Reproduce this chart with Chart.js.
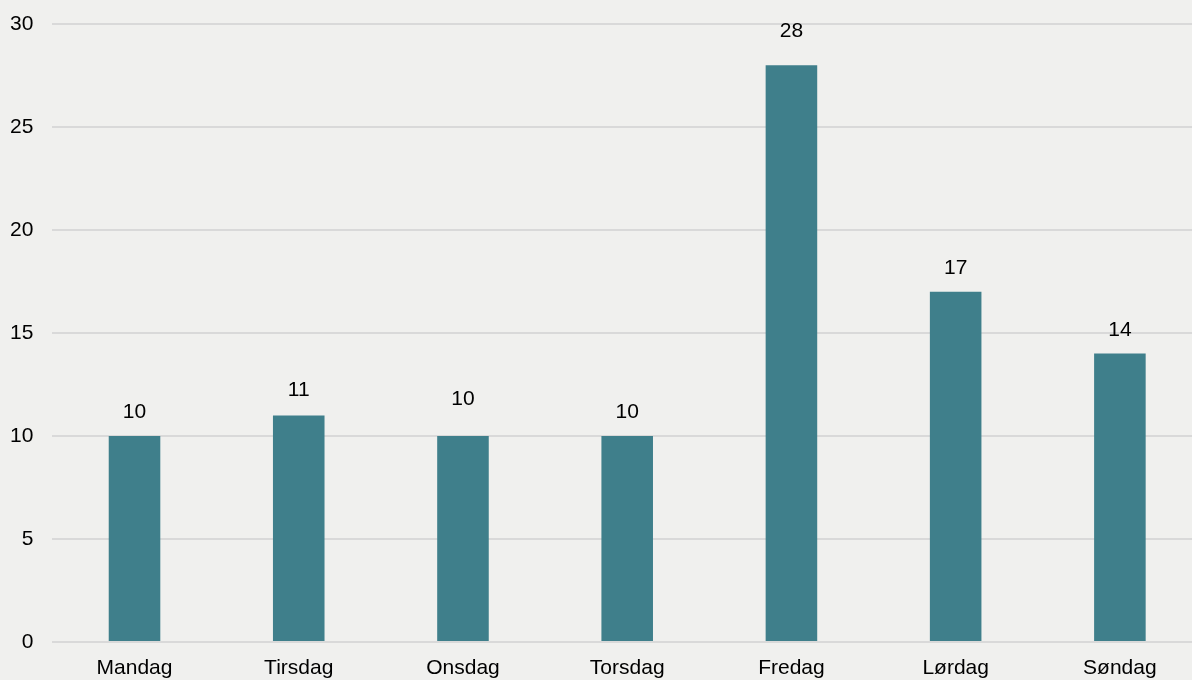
<!DOCTYPE html>
<html>
<head>
<meta charset="utf-8">
<script src="https://cdn.jsdelivr.net/npm/chart.js@4"></script>
<style>
  html, body { margin: 0; padding: 0; background: #f0f0ee; overflow: hidden; }
  #wrap { width: 1202px; height: 680px; }
</style>
</head>
<body>
<div id="wrap"><canvas id="chart" width="1202" height="680"></canvas></div>
<script>
const days = ['Mandag', 'Tirsdag', 'Onsdag', 'Torsdag', 'Fredag', 'Lørdag', 'Søndag'];
const counts = [10, 11, 10, 10, 28, 17, 14];
const yTicks = [0, 5, 10, 15, 20, 25, 30];

// how far above each bar top its number sits (px)
const labelLift = [24, 25, 37, 24, 34, 24, 23];

const FONT = '"Liberation Sans", Arial, sans-serif';

const valueLabels = {
    id: 'valueLabels',
    afterDatasetsDraw(chart) {
        const ctx = chart.ctx;
        const meta = chart.getDatasetMeta(0);
        ctx.save();
        ctx.font = '21px ' + FONT;
        ctx.fillStyle = '#000';
        ctx.textAlign = 'center';
        ctx.textBaseline = 'middle';
        meta.data.forEach((bar, i) => {
            ctx.fillText(String(counts[i]), bar.x, bar.y - labelLift[i]);
        });
        ctx.restore();
    }
};

const ctx = document.getElementById('chart').getContext('2d');

new Chart(ctx, {
    type: 'bar',
    data: {
        labels: days,
        datasets: [{
            data: counts,
            backgroundColor: '#3f7f8b',
            borderWidth: 0,
            barPercentage: 0.314,
            categoryPercentage: 1
        }]
    },
    options: {
        responsive: false,
        animation: false,
        layout: { padding: { top: 24, right: 0, left: 0, bottom: 0 } },
        plugins: { legend: { display: false }, tooltip: { enabled: false } },
        scales: {
            x: {
                grid: { display: false, drawTicks: false },
                border: { display: false },
                ticks: { color: '#000', font: { family: FONT, size: 21 }, padding: 14, maxRotation: 0 },
                afterFit(scale) { scale.height = 38; }
            },
            y: {
                min: 0,
                max: 30,
                afterBuildTicks(scale) { scale.ticks = yTicks.map(v => ({ value: v })); },
                grid: { color: '#d9d9d9', lineWidth: 2, drawTicks: false },
                border: { display: false },
                ticks: { color: '#000', font: { family: FONT, size: 21 }, padding: 19 },
                afterFit(scale) {
                    scale.width = 52.4;
                    scale.paddingTop = 0;
                    scale.paddingBottom = 0;
                }
            }
        }
    },
    plugins: [valueLabels]
});
</script>
</body>
</html>
